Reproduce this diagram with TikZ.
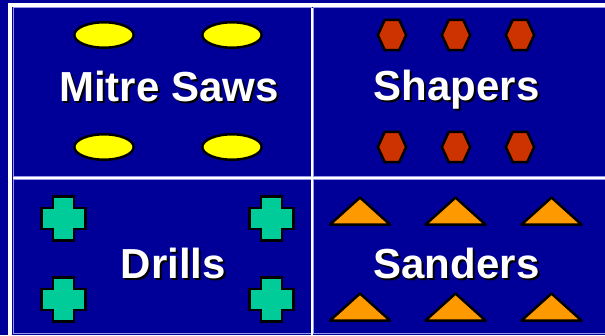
\documentclass[tikz,border=0pt]{standalone}
\usepackage{fontspec}
\setmainfont{Liberation Sans}
\usepackage{tikz}
\usetikzlibrary{positioning, calc}
\definecolor{boardblue}{RGB}{0,0,153}
\definecolor{gridline}{RGB}{150,150,235}
\definecolor{sawyellow}{RGB}{255,255,0}
\definecolor{shaperred}{RGB}{204,51,0}
\definecolor{drillgreen}{RGB}{0,204,153}
\definecolor{sanderorange}{RGB}{255,153,0}
\tikzset{
  cell/.style={draw=gridline, line width=1pt, fill=boardblue},
  part/.style={draw=black, line width=2.5pt},
  saw/.style={part, fill=sawyellow},
  hex/.style={part, fill=shaperred},
  plus/.style={part, fill=drillgreen},
  tri/.style={part, fill=sanderorange, line join=round},
  title/.style={font=\fontsize{42}{50}\bfseries\selectfont, inner sep=0pt, anchor=base},
  shade/.style={title, text=black},
  head/.style={title, text=white}
}
\newcommand{\shadowtitle}[3]{%
  \node[shade] (#1s) at ($(#2)+(2,-2)$) {#3};
  \node[head]  (#1)  at (#2) {#3};}

\begin{document}
\begin{tikzpicture}[x=1pt, y=1pt]
  \useasboundingbox (0,0) rectangle (605,335);
  \fill[boardblue] (0,0) rectangle (605,335);

  %% ── Rahmen und Felder ─────────────────────────────────────
  \draw[white, line width=3.5pt] (10,-5) -- (10,330) -- (615,330);
  \draw[cell] (13,158) rectangle (311,327);
  \draw[cell] (313,158) rectangle (615,327);
  \draw[cell] (13,2) rectangle (311,155);
  \draw[cell] (313,2) rectangle (615,155);
  \draw[white, line width=2pt] (312,0) -- (312,327);
  \draw[white, line width=2pt] (13,156.5) -- (615,156.5);

  %% ── Mitre Saws ────────────────────────────────────────────
  \foreach \x in {104, 232}
    \foreach \y in {300, 188}
      \draw[saw] (\x,\y) ellipse [x radius=29.7, y radius=12.7];
  \coordinate (pSaws) at (169,233);
  \shadowtitle{saws}{pSaws}{Mitre Saws}

  %% ── Shapers ───────────────────────────────────────────────
  \foreach \x in {392, 456, 520}
    \foreach \y in {300, 188}
      \draw[hex] (\x,\y) ++(-14.2,0) -- ++(7,15.2) -- ++(14.4,0)
        -- ++(7,-15.2) -- ++(-7,-15.2) -- ++(-14.4,0) -- cycle;
  \coordinate (pShapers) at (456.5,234);
  \shadowtitle{shapers}{pShapers}{Shapers}

  %% ── Drills ────────────────────────────────────────────────
  \foreach \x in {63.5, 271.5}
    \foreach \y in {116.5, 35.5}
      \draw[plus] (\x,\y) ++(-10.5,22.2) -- ++(21,0) -- ++(0,-11.7)
        -- ++(11.7,0) -- ++(0,-21) -- ++(-11.7,0) -- ++(0,-11.7)
        -- ++(-21,0) -- ++(0,11.7) -- ++(-11.7,0) -- ++(0,21)
        -- ++(11.7,0) -- cycle;
  \coordinate (pDrills) at (173.5,57);
  \shadowtitle{drills}{pDrills}{Drills}

  %% ── Sanders ───────────────────────────────────────────────
  \foreach \x in {360, 455.5, 551.5}
    \foreach \y in {124, 28}
      \draw[tri] (\x,\y) ++(-30,-13.5) -- ++(60,0) -- ++(-30,27) -- cycle;
  \coordinate (pSanders) at (456.5,57);
  \shadowtitle{sanders}{pSanders}{Sanders}

\end{tikzpicture}
\end{document}
